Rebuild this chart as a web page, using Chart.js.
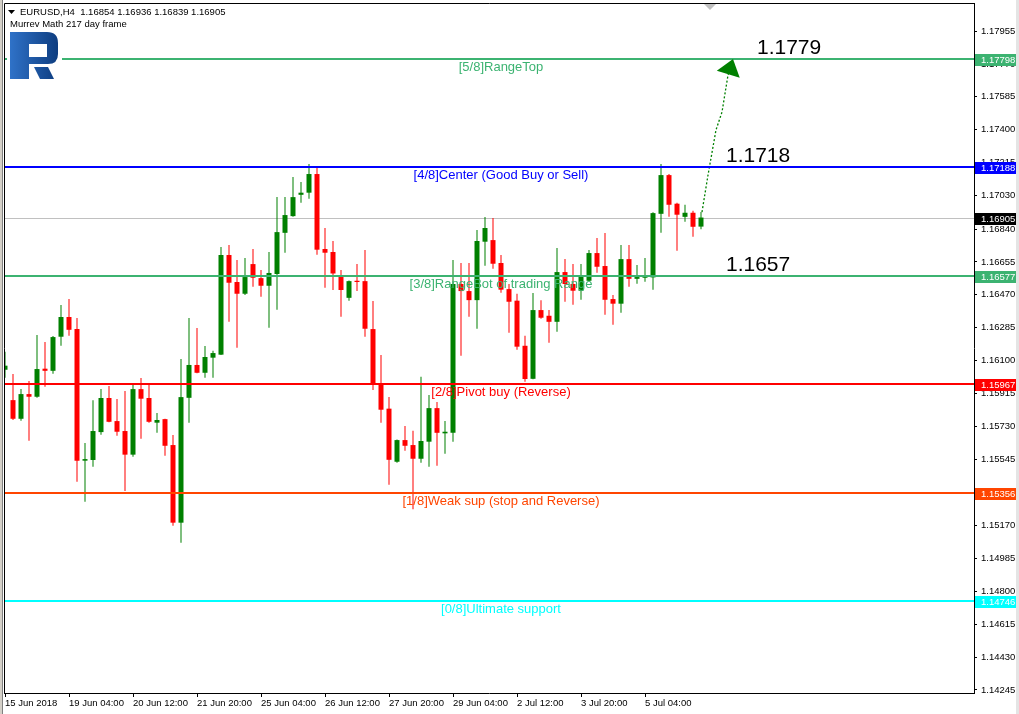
<!DOCTYPE html>
<html>
<head>
<meta charset="utf-8">
<title>EURUSD,H4 Murrey Math</title>
<script src="https://cdn.jsdelivr.net/npm/chart.js@4.4.1/dist/chart.umd.min.js"></script>
<style>
  html, body { margin: 0; padding: 0; background: #fff; }
  #wrap { width: 1019px; height: 714px; }
</style>
</head>
<body>
<div id="wrap"><canvas id="chart" width="1019" height="714"></canvas></div>
<script>
// H4 candles, first visible bar = 15 Jun 2018 20:00
const opens = [1.16048,1.15877,1.15772,1.15911,1.15896,1.16054,1.16042,1.16234,1.16345,1.16277,
  1.15536,1.15540,1.15697,1.15889,1.15759,1.15703,1.15570,1.15939,1.15889,1.15750,
  1.15770,1.15624,1.15187,1.15890,1.16075,1.16031,1.16116,1.16133,1.16694,1.16542,
  1.16476,1.16643,1.16564,1.16521,1.16587,1.16819,1.16913,1.17033,1.17045,1.17150,
  1.16728,1.16711,1.16581,1.16453,1.16549,1.16547,1.16277,1.15969,1.15829,1.15530,
  1.15652,1.15624,1.15547,1.15643,1.15832,1.15690,1.15693,1.16531,1.16491,1.16440,
  1.16769,1.16778,1.16649,1.16502,1.16437,1.16183,1.15997,1.16384,1.16352,1.16318,
  1.16598,1.16531,1.16493,1.16549,1.16705,1.16632,1.16446,1.16420,1.16671,1.16560,
  1.16566,1.16568,1.16926,1.17144,1.16983,1.16909,1.16932,1.16854];
const highs = [1.16149,1.16024,1.15939,1.15984,1.16243,1.16204,1.16238,1.16412,1.16446,1.16339,
  1.15635,1.15877,1.15939,1.15956,1.15883,1.15928,1.15962,1.16001,1.15962,1.15804,
  1.15772,1.15680,1.16108,1.16339,1.16283,1.16182,1.16155,1.16739,1.16750,1.16666,
  1.16677,1.16728,1.16609,1.16711,1.17020,1.17020,1.17133,1.17105,1.17206,1.17195,
  1.16846,1.16773,1.16609,1.16550,1.16643,1.16722,1.16435,1.16131,1.15894,1.15655,
  1.15731,1.15705,1.16009,1.15906,1.15866,1.15759,1.16666,1.16649,1.16649,1.16835,
  1.16908,1.16902,1.16694,1.16531,1.16476,1.16240,1.16480,1.16440,1.16384,1.16733,
  1.16671,1.16643,1.16643,1.16722,1.16790,1.16818,1.16469,1.16750,1.16750,1.16638,
  1.16677,1.16935,1.17206,1.17150,1.16988,1.16977,1.16943,1.16936];
const lows = [1.16003,1.15765,1.15761,1.15648,1.15890,1.15952,1.16026,1.16183,1.16240,1.15418,
  1.15305,1.15502,1.15682,1.15753,1.15677,1.15365,1.15558,1.15660,1.15750,1.15693,
  1.15564,1.15170,1.15074,1.15750,1.16029,1.16003,1.16003,1.16131,1.16318,1.16172,
  1.16469,1.16515,1.16459,1.16285,1.16386,1.16707,1.16909,1.16988,1.17011,1.16696,
  1.16510,1.16497,1.16346,1.16437,1.16491,1.16234,1.15934,1.15750,1.15401,1.15525,
  1.15592,1.15262,1.15525,1.15502,1.15508,1.15575,1.15643,1.16127,1.16346,1.16279,
  1.16634,1.16617,1.16482,1.16256,1.16161,1.15981,1.15994,1.16335,1.16200,1.16262,
  1.16431,1.16414,1.16442,1.16546,1.16594,1.16358,1.16301,1.16369,1.16515,1.16532,
  1.16544,1.16499,1.16819,1.16909,1.16718,1.16881,1.16797,1.16839];
const closes = [1.16071,1.15772,1.15911,1.15896,1.16052,1.16042,1.16232,1.16345,1.16273,1.15536,
  1.15545,1.15703,1.15889,1.15755,1.15699,1.15570,1.15939,1.15885,1.15755,1.15765,
  1.15620,1.15187,1.15894,1.16075,1.16031,1.16120,1.16142,1.16694,1.16538,1.16476,
  1.16570,1.16566,1.16521,1.16593,1.16823,1.16919,1.17020,1.17045,1.17150,1.16724,
  1.16707,1.16590,1.16497,1.16547,1.16542,1.16279,1.15973,1.15823,1.15541,1.15652,
  1.15620,1.15547,1.15647,1.15832,1.15693,1.15699,1.16531,1.16491,1.16440,1.16773,
  1.16846,1.16645,1.16499,1.16431,1.16178,1.15996,1.16384,1.16341,1.16318,1.16598,
  1.16531,1.16493,1.16581,1.16705,1.16628,1.16442,1.16420,1.16671,1.16560,1.16570,
  1.16572,1.16930,1.17144,1.16977,1.16921,1.16932,1.16853,1.16905];

// time axis labels (bar index -> text)
const xTickIdx = [0, 8, 16, 24, 32, 40, 48, 56, 64, 72, 80];
const xTickText = ['15 Jun 2018', '19 Jun 04:00', '20 Jun 12:00', '21 Jun 20:00', '25 Jun 04:00',
  '26 Jun 12:00', '27 Jun 20:00', '29 Jun 04:00', '2 Jul 12:00', '3 Jul 20:00', '5 Jul 04:00'];

// price axis labels
const yTickVals = [1.17955, 1.17770, 1.17585, 1.17400, 1.17215, 1.17030, 1.16840, 1.16655, 1.16470,
  1.16285, 1.16100, 1.15915, 1.15730, 1.15545, 1.15360, 1.15170, 1.14985, 1.14800, 1.14615,
  1.14430, 1.14245];

// Murrey Math levels
const levelVals = [1.17798, 1.17188, 1.16577, 1.15967, 1.15356, 1.14746];
const levelNames = ['[5/8]RangeTop', '[4/8]Center (Good Buy or Sell)', '[3/8]RangeBot of trading Range',
  '[2/8]Pivot buy (Reverse)', '[1/8]Weak sup (stop and Reverse)', '[0/8]Ultimate support'];
const levelColors = ['#3CB371', '#0000FF', '#3CB371', '#FF0000', '#FF4500', '#00FFFF'];

// forecast notes + dotted arrow
const noteText = ['1.1779', '1.1718', '1.1657'];
const notePrice = [1.17798, 1.17188, 1.16577];
const noteIdx = [94, 90.125, 90.125];
const arrowIdx = [87.125, 87.875, 88.875, 89.625, 90.375, 91];
const arrowPrice = [1.16936, 1.17144, 1.17398, 1.17499, 1.17707, 1.17798];

const UP = '#008000';
const DOWN = '#FF0000';
const Y_MIN = 1.14228, Y_MAX = 1.18113;
const LABEL_IDX = 62;
const bidPrice = closes[closes.length - 1];
const AXIS_FONT = "9.5px 'Liberation Sans', Arial, sans-serif";

Chart.defaults.font.family = "'Liberation Sans', Arial, sans-serif";
Chart.defaults.color = '#000';

const candleColors = closes.map((c, i) => c >= opens[i] ? UP : DOWN);

function drawLogo(ctx) {
    ctx.save();
    ctx.fillStyle = '#fff';
    ctx.fillRect(7, 29, 55, 52);
    const g = ctx.createLinearGradient(10, 0, 58, 0);
    g.addColorStop(0, '#2f72c8');
    g.addColorStop(1, '#0e3d80');
    ctx.fillStyle = g;
    // stem + bowl
    ctx.beginPath();
    ctx.moveTo(10, 32);
    ctx.lineTo(47, 32);
    ctx.quadraticCurveTo(58, 32, 58, 43);
    ctx.lineTo(58, 54);
    ctx.quadraticCurveTo(58, 64, 48, 64);
    ctx.lineTo(29, 64);
    ctx.lineTo(29, 79);
    ctx.lineTo(10, 79);
    ctx.closePath();
    ctx.moveTo(29, 44);
    ctx.lineTo(29, 57);
    ctx.lineTo(47, 57);
    ctx.lineTo(47, 44);
    ctx.closePath();
    ctx.fill('evenodd');
    // leg
    ctx.beginPath();
    ctx.moveTo(34, 67);
    ctx.lineTo(48, 67);
    ctx.lineTo(54, 79);
    ctx.lineTo(40, 79);
    ctx.closePath();
    ctx.fill();
    ctx.restore();
}

const mt4Plugin = {
    id: 'mt4',
    beforeDatasetsDraw(chart) {
        const { ctx, chartArea: a, scales: { y } } = chart;
        const py = Math.round(y.getPixelForValue(bidPrice)) + 0.5;
        ctx.save();
        ctx.strokeStyle = '#c0c0c0';
        ctx.lineWidth = 1;
        ctx.beginPath();
        ctx.moveTo(a.left, py);
        ctx.lineTo(a.right, py);
        ctx.stroke();
        ctx.restore();
    },
    afterDatasetsDraw(chart) {
        const { ctx, chartArea: a, scales: { x, y } } = chart;
        ctx.save();
        // level lines + names
        levelVals.forEach((v, i) => {
            const py = Math.round(y.getPixelForValue(v));
            ctx.fillStyle = levelColors[i];
            ctx.fillRect(a.left + 1, py - 1, a.right - a.left - 1, 2);
            ctx.font = "13px 'Liberation Sans', Arial, sans-serif";
            ctx.textAlign = 'center';
            ctx.textBaseline = 'middle';
            ctx.fillText(levelNames[i], x.getPixelForValue(LABEL_IDX), py + 8);
        });
        // forecast notes
        ctx.fillStyle = '#000';
        ctx.font = "21px 'Liberation Sans', Arial, sans-serif";
        ctx.textAlign = 'left';
        ctx.textBaseline = 'alphabetic';
        noteText.forEach((t, i) => {
            ctx.fillText(t, x.getPixelForValue(noteIdx[i]), y.getPixelForValue(notePrice[i]) - 5);
        });
        // arrow head on the dotted line
        const n = arrowIdx.length;
        const tx = x.getPixelForValue(arrowIdx[n - 1]), ty = y.getPixelForValue(arrowPrice[n - 1]);
        const sx = x.getPixelForValue(arrowIdx[n - 2]), sy = y.getPixelForValue(arrowPrice[n - 2]);
        const len = Math.hypot(tx - sx, ty - sy);
        const dx = (tx - sx) / len, dy = (ty - sy) / len;
        const bx = tx - dx * 16, by = ty - dy * 16;
        ctx.fillStyle = UP;
        ctx.beginPath();
        ctx.moveTo(tx, ty);
        ctx.lineTo(bx - dy * 12, by + dx * 12);
        ctx.lineTo(bx + dy * 12, by - dx * 12);
        ctx.closePath();
        ctx.fill();
        ctx.restore();
    },
    afterDraw(chart) {
        const { ctx, chartArea: a, scales: { y } } = chart;
        ctx.save();
        // frame
        ctx.strokeStyle = '#000';
        ctx.lineWidth = 1;
        ctx.beginPath();
        ctx.moveTo(a.left + 0.5, a.bottom);
        ctx.lineTo(a.left + 0.5, a.top + 0.5);
        ctx.lineTo(a.right, a.top + 0.5);
        ctx.stroke();
        // window edges
        ctx.fillStyle = '#d4d0c8';
        ctx.fillRect(0, 0, 2, 714);
        ctx.fillStyle = '#808080';
        ctx.fillRect(2, 0, 1, 714);
        ctx.fillStyle = '#e4e4e4';
        ctx.fillRect(1016, 0, 3, 714);
        // chart shift marker
        ctx.fillStyle = '#c0c0c0';
        ctx.beginPath();
        ctx.moveTo(704, a.top + 1);
        ctx.lineTo(716, a.top + 1);
        ctx.lineTo(710, a.top + 7);
        ctx.closePath();
        ctx.fill();

        // price boxes on the axis
        const boxes = levelVals.map((v, i) => [v, levelColors[i]]);
        boxes.push([bidPrice, '#000']);
        ctx.font = AXIS_FONT;
        ctx.textAlign = 'left';
        ctx.textBaseline = 'middle';
        boxes.forEach(([v, c]) => {
            const py = Math.round(y.getPixelForValue(v));
            ctx.fillStyle = c;
            ctx.fillRect(a.right + 1, py - 5, 41, 12);
            ctx.fillStyle = '#fff';
            ctx.fillText(v.toFixed(5), a.right + 7, py + 1);
        });

        // header
        ctx.fillStyle = '#000';
        ctx.beginPath();
        ctx.moveTo(8, 10);
        ctx.lineTo(15, 10);
        ctx.lineTo(11.5, 14);
        ctx.closePath();
        ctx.fill();
        ctx.font = "9.5px 'Liberation Sans', Arial, sans-serif";
        ctx.fillText('EURUSD,H4  ' + [opens, highs, lows, closes].map(s => s[s.length - 1].toFixed(5)).join(' '), 20, 12.5);
        ctx.fillText('Murrev Math 217 day frame', 10, 24.5);
        drawLogo(ctx);
        ctx.restore();
    }
};

new Chart(document.getElementById('chart'), {
    type: 'bar',
    data: {
        datasets: [
            {
                type: 'line',
                data: arrowIdx.map((v, i) => ({ x: v, y: arrowPrice[i] })),
                borderColor: UP,
                borderWidth: 1.3,
                borderDash: [2, 2],
                pointRadius: 0,
                fill: false
            },
            {
                data: opens.map((o, i) => ({ x: i, y: [o, closes[i]] })),
                backgroundColor: candleColors,
                barThickness: 5,
                grouped: false,
                minBarLength: 1,
                borderWidth: 0,
                inflateAmount: 0
            },
            {
                data: lows.map((l, i) => ({ x: i, y: [l, highs[i]] })),
                backgroundColor: candleColors,
                barThickness: 1,
                grouped: false,
                borderWidth: 0,
                inflateAmount: 0
            }
        ]
    },
    options: {
        responsive: false,
        animation: false,
        devicePixelRatio: 1,
        layout: { padding: { left: 4, top: 3, right: 0, bottom: 0 } },
        plugins: { legend: { display: false }, tooltip: { enabled: false } },
        scales: {
            x: {
                type: 'linear',
                min: -0.125,
                max: 121.125,
                offset: false,
                grid: { drawOnChartArea: false, drawTicks: true, tickLength: 4, color: '#000', offset: false },
                border: { display: true, color: '#000' },
                afterBuildTicks: s => { s.ticks = xTickIdx.map(v => ({ value: v })); },
                afterFit: s => { s.height = 21; s.paddingLeft = 0; s.paddingRight = 0; },
                ticks: {
                    align: 'start',
                    maxRotation: 0,
                    autoSkip: false,
                    padding: 1,
                    color: '#000',
                    font: { size: 9.5 },
                    callback: v => xTickText[xTickIdx.indexOf(v)]
                }
            },
            y: {
                position: 'right',
                min: Y_MIN,
                max: Y_MAX,
                grid: { drawOnChartArea: false, drawTicks: true, tickLength: 3, color: '#000' },
                border: { display: true, color: '#000' },
                afterBuildTicks: s => { s.ticks = yTickVals.map(v => ({ value: v })); },
                afterFit: s => { s.width = 45; s.paddingTop = 0; s.paddingBottom = 0; },
                ticks: {
                    autoSkip: false,
                    padding: 4,
                    color: '#000',
                    font: { size: 9.5 },
                    callback: v => v.toFixed(5)
                }
            }
        }
    },
    plugins: [mt4Plugin]
});
</script>
</body>
</html>
